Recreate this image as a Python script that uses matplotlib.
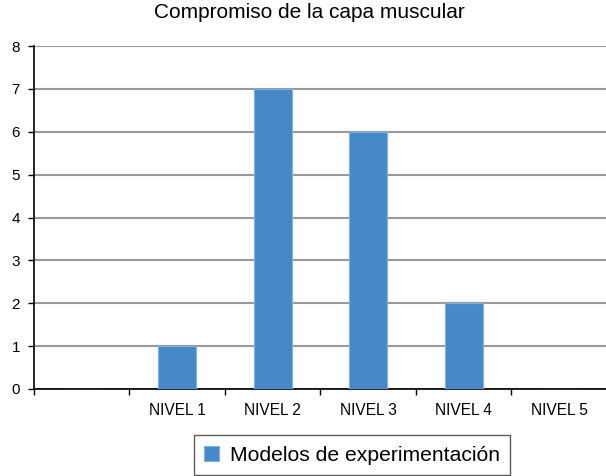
import numpy as np
import matplotlib.pyplot as plt

plt.rcParams.update({
    "font.family": "Liberation Sans",
})

categories = ["", "NIVEL 1", "NIVEL 2", "NIVEL 3", "NIVEL 4", "NIVEL 5"]
values = [0, 1, 7, 6, 2, 0]
series_name = "Modelos de experimentación"
title = "Compromiso de la capa muscular"

fig = plt.figure(figsize=(6.06, 4.76), dpi=100)
ax = fig.add_axes([34/606, 1-389/476, 573/606, (389-46)/476])

x = np.arange(len(categories))
ax.bar(x, values, width=0.4, color="#4589c9", edgecolor="#7fb0e0",
       linewidth=0.8, label=series_name, zorder=3)

ax.set_xlim(-0.5, len(categories)-0.5)
ax.set_ylim(0, 8)
ax.set_yticks(range(0, 9))
ax.set_xticks(x)
ax.set_xticklabels(categories, fontsize=11.2)
ax.set_xticks(np.arange(-0.5, len(categories)), minor=True)
ax.tick_params(axis="x", which="major", length=0, pad=10)
ax.tick_params(axis="x", which="minor", length=4, width=1, direction="out")
ax.tick_params(axis="y", length=4, width=1, direction="out", labelsize=11, pad=6)

ax.grid(axis="y", color="#9a9a9a", linewidth=1.5, zorder=0)
for s in ["top", "right"]:
    ax.spines[s].set_visible(False)
ax.spines["left"].set_linewidth(1.2)
ax.spines["bottom"].set_linewidth(1.2)

fig.text(309/606, 1-12/476, title, ha="center", va="center", fontsize=15)

leg = fig.legend(loc="upper center", bbox_to_anchor=(352/606, 1-435/476),
                 fontsize=15.2, frameon=True, fancybox=False, edgecolor="#333333",
                 handlelength=0.7, handleheight=0.7, handletextpad=0.5,
                 borderpad=0.5, borderaxespad=0)
leg.get_frame().set_linewidth(1.0)

fig.savefig("out.png", dpi=100)
